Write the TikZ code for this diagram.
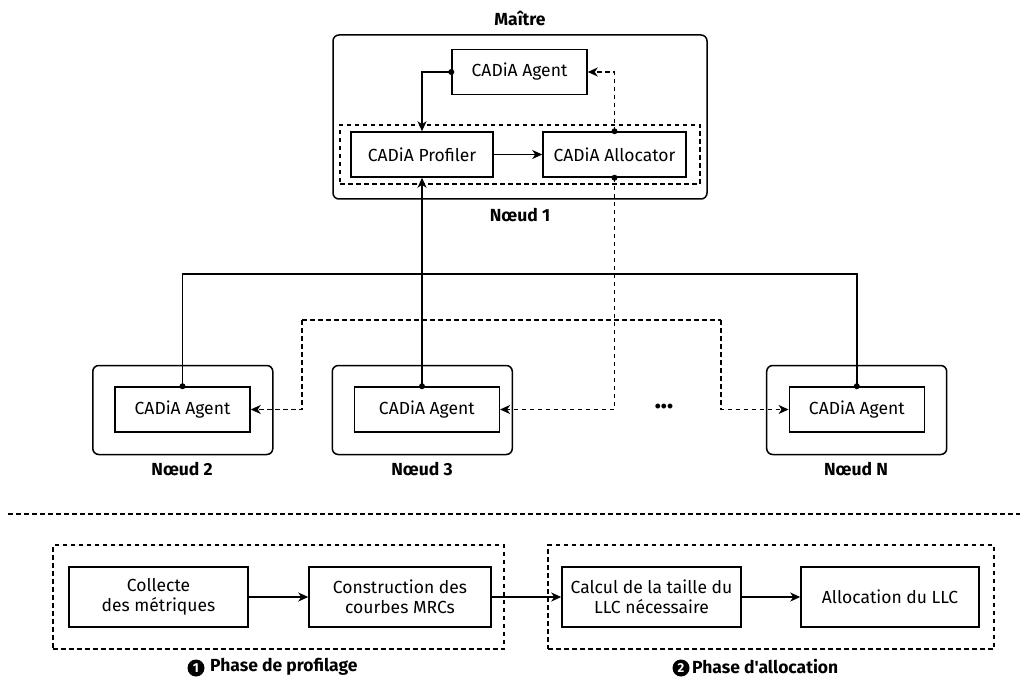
\documentclass[tikz,border=0pt]{standalone}
\usepackage{fontspec}
\setmainfont{Fira Sans}[Ligatures=TeXOff]
\usetikzlibrary{arrows.meta}
\begin{document}
\begin{tikzpicture}[x=1pt,y=-1pt,
  every node/.style={font=\fontsize{17.5}{20.5}\selectfont},
  box/.style={draw, line width=1.5pt, inner sep=0pt, align=center, minimum height=45pt},
  outerbox/.style={draw, line width=1.5pt, rounded corners=6pt, inner sep=0pt, minimum width=180pt, minimum height=89pt},
  dbox/.style={draw, line width=1.5pt, dash pattern=on 4.5pt off 3.5pt, inner sep=0pt},
  pbox/.style={draw, line width=1.5pt, inner sep=0pt, align=center, minimum width=179pt, minimum height=60pt},
  lab/.style={font=\fontsize{17.5}{20.5}\selectfont\bfseries},
  conn/.style={line width=1.5pt, -{Stealth[length=10pt,width=9pt,inset=3pt]}},
  dconn/.style={conn, dash pattern=on 4.5pt off 3.5pt},
  plain/.style={line width=1.5pt},
  dplain/.style={line width=1.5pt, dash pattern=on 4.5pt off 3.5pt},
  dotc/.style={fill=black},
  numc/.style={circle, fill=black, text=white, inner sep=0pt, minimum size=17pt, font=\fontsize{13}{13}\selectfont\bfseries}
]
\useasboundingbox (0,0) rectangle (1027,684);

% Noeud 1 (master)
\node[lab] (maitre) at (520,18) {Maître};
\node[outerbox, minimum width=374pt, minimum height=164pt] (n1) at (520,117) {};
\node[box, minimum width=135pt] (agent1) at (519.5,72) {CADiA Agent};
\node[dbox, minimum width=360pt, minimum height=59pt] (inner) at (520,154.5) {};
\node[box, minimum width=142pt] (prof) at (422,154.5) {CADiA Profiler};
\node[box, minimum width=143pt] (alloc) at (614.5,154.5) {CADiA Allocator};
\node[lab] (n1lab) at (520,215) {Nœud 1};

% other nodes
\node[outerbox] (n2) at (182.8,410) {};
\node[box, minimum width=135pt] (ag2) at (182.5,409.5) {CADiA Agent};
\node[lab] (n2lab) at (182,469) {Nœud 2};

\node[outerbox] (n3) at (422.3,410) {};
\node[box, minimum width=145pt] (ag3) at (426.8,409.5) {CADiA Agent};
\node[lab] (n3lab) at (422,469) {Nœud 3};

\node[outerbox] (nN) at (856.7,410) {};
\node[box, minimum width=135pt] (agN) at (856.8,409.5) {CADiA Agent};
\node[lab] (nNlab) at (856,469) {Nœud N};

\node[font=\fontsize{17.5}{20.5}\selectfont\bfseries] (dots) at (664,408) {•••};

% connectors in master
\draw[conn] (agent1.west) -| (prof.north);
\fill[dotc] (agent1.west) circle (3pt);
\draw[dconn] (alloc.north) |- (agent1.east);
\fill[dotc] (alloc.north) circle (3pt);
\draw[conn] (prof.east) -- (alloc.west);

% solid bus
\coordinate (bus) at (0,274);
\coordinate (p3) at (prof.south |- ag3.north);
\draw[plain] (ag2.north) -- (ag2.north |- bus) -- (agN.north |- bus) -- (agN.north);
\fill[dotc] (ag2.north) circle (3pt);
\fill[dotc] (agN.north) circle (3pt);
\draw[conn] (p3) -- (prof.south);
\fill[dotc] (p3) circle (3pt);

% dashed bus
\coordinate (dl) at (302,320);
\coordinate (dr) at (721,320);
\draw[dconn] (alloc.south) |- (ag3.east);
\fill[dotc] (alloc.south) circle (3pt);
\draw[dplain] (dl) -- (dr);
\draw[dconn] (dl) |- (ag2.east);
\draw[dconn] (dr) |- (agN.west);

% separator
\coordinate (sepL) at (8,514);
\coordinate (sepR) at (1020,514);
\draw[dplain] (sepL) -- (sepR);

% phases
\node[dbox, minimum width=451pt, minimum height=104pt] (ph1) at (278.5,597) {};
\node[dbox, minimum width=446pt, minimum height=104pt] (ph2) at (771,597) {};
\node[pbox] (collecte) at (158.5,597) {Collecte\\des métriques};
\node[pbox, minimum width=182pt] (constr) at (400,597) {Construction des\\courbes MRCs};
\node[pbox] (calcul) at (651.5,597) {Calcul de la taille du\\LLC nécessaire};
\node[pbox, minimum width=178pt] (allocllc) at (890,597) {Allocation du LLC};
\draw[conn] (collecte.east) -- (constr.west);
\draw[conn] (constr.east) -- (calcul.west);
\draw[conn] (calcul.east) -- (allocllc.west);

\node[numc] (num1) at (196,668) {1};
\node[lab, anchor=west, inner sep=0pt] (ph1lab) at (210,667) {Phase de profilage};
\node[numc] (num2) at (681,668) {2};
\node[lab, anchor=west, inner sep=0pt] (ph2lab) at (692,667) {Phase d'allocation};
\end{tikzpicture}
\end{document}
